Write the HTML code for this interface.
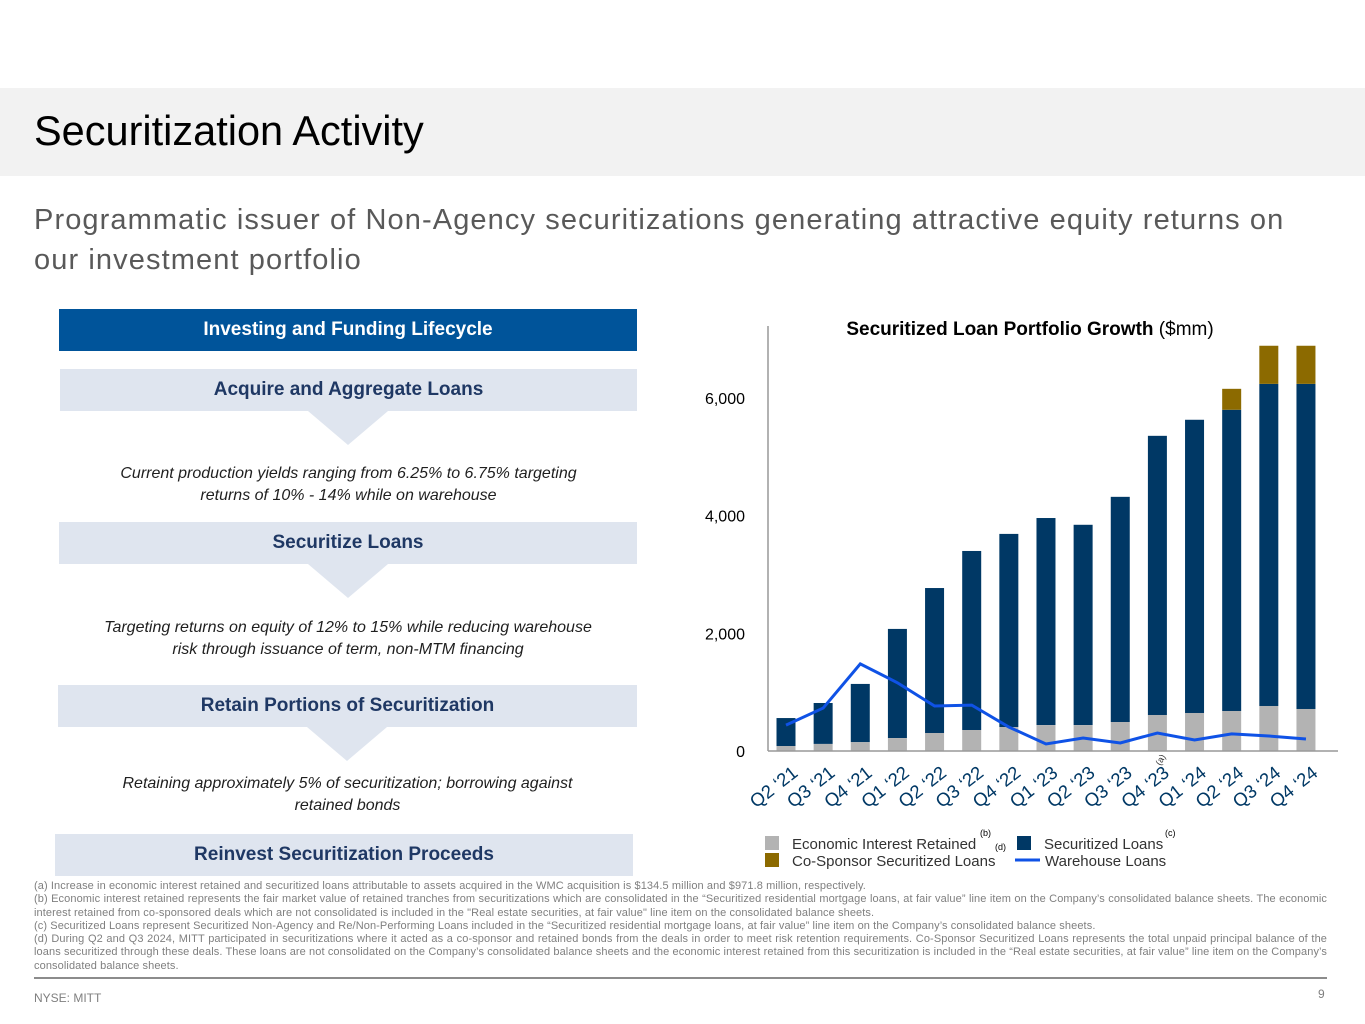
<!DOCTYPE html>
<html><head><meta charset="utf-8">
<style>
body{margin:0;width:1365px;height:1024px;background:#fff;position:relative;overflow:hidden;font-family:"Liberation Sans",sans-serif;}
.abs{position:absolute;}
.box{position:absolute;background:#dfe5ef;color:#1f3864;font-weight:bold;font-size:19px;text-align:center;line-height:42px;height:42px;}
.tri{position:absolute;width:0;height:0;border-left:40px solid transparent;border-right:40px solid transparent;border-top:34px solid #dfe5ef;}
.it{position:absolute;font-style:italic;color:#1f1f1f;font-size:16px;text-align:center;line-height:22px;}
.fn{position:absolute;left:34px;width:1293px;font-size:11px;color:#7f7f7f;line-height:13.3px;text-align:justify;letter-spacing:0.1px;}
</style></head><body>
<div class="abs" style="left:0;top:88px;width:1365px;height:88px;background:#f2f2f2;"></div>
<div class="abs" style="left:34px;top:107px;font-size:41.5px;color:#000;">Securitization Activity</div>
<div class="abs" style="left:34px;top:200px;width:1320px;font-size:29px;line-height:40px;color:#595959;letter-spacing:1.1px;">Programmatic issuer of Non-Agency securitizations generating attractive equity returns on<br>our investment portfolio</div>

<div class="box" style="left:59px;top:309px;width:578px;background:#00549a;color:#fff;">Investing and Funding Lifecycle</div>
<div class="box" style="left:60px;top:369px;width:577px;">Acquire and Aggregate Loans</div>
<div class="tri" style="left:308px;top:411px;"></div>
<div class="it" style="left:60px;top:463px;width:577px;">Current production yields ranging from 6.25% to 6.75% targeting<br>returns of 10% - 14% while on warehouse</div>
<div class="box" style="left:59px;top:522px;width:578px;">Securitize Loans</div>
<div class="tri" style="left:308px;top:564px;"></div>
<div class="it" style="left:59px;top:617px;width:578px;">Targeting returns on equity of 12% to 15% while reducing warehouse<br>risk through issuance of term, non-MTM financing</div>
<div class="box" style="left:58px;top:685px;width:579px;">Retain Portions of Securitization</div>
<div class="tri" style="left:307px;top:727px;"></div>
<div class="it" style="left:58px;top:773px;width:579px;">Retaining approximately 5% of securitization; borrowing against<br>retained bonds</div>
<div class="box" style="left:55px;top:834px;width:578px;">Reinvest Securitization Proceeds</div>

<svg class="abs" style="left:0;top:0" width="1365" height="880" id="chart"></svg>

<div class="fn" style="top:880px;">(a) Increase in economic interest retained and securitized loans attributable to assets acquired in the WMC acquisition is $134.5 million and $971.8 million, respectively.<br>(b) Economic interest retained represents the fair market value of retained tranches from securitizations which are consolidated in the “Securitized residential mortgage loans, at fair value” line item on the Company’s consolidated balance sheets. The economic interest retained from co-sponsored deals which are not consolidated is included in the "Real estate securities, at fair value" line item on the consolidated balance sheets.<br>(c) Securitized Loans represent Securitized Non-Agency and Re/Non-Performing Loans included in the “Securitized residential mortgage loans, at fair value” line item on the Company’s consolidated balance sheets.<br>(d) During Q2 and Q3 2024, MITT participated in securitizations where it acted as a co-sponsor and retained bonds from the deals in order to meet risk retention requirements. Co-Sponsor Securitized Loans represents the total unpaid principal balance of the loans securitized through these deals. These loans are not consolidated on the Company’s consolidated balance sheets and the economic interest retained from this securitization is included in the “Real estate securities, at fair value” line item on the Company’s consolidated balance sheets.</div>
<div class="abs" style="left:34px;top:977px;width:1293px;height:2px;background:#8c8c8c;"></div>
<div class="abs" style="left:34px;top:991px;font-size:12px;color:#7f7f7f;">NYSE: MITT</div>
<div class="abs" style="left:1318px;top:987px;font-size:12px;color:#7f7f7f;">9</div>

<script>
const categories=["Q2 '21","Q3 '21","Q4 '21","Q1 '22","Q2 '22","Q3 '22","Q4 '22","Q1 '23","Q2 '23","Q3 '23","Q4 '23","Q1 '24","Q2 '24","Q3 '24","Q4 '24"];
const economicInterest=[85,120,150,220,306,357,408,440,440,493,612,646,680,765,714];
const securitizedTotal=[560,816,1140,2075,2770,3400,3690,3960,3845,4320,5357,5630,5800,6240,6240];
const coSponsor=[0,0,0,0,0,0,0,0,0,0,0,0,356,648,648];
const warehouse=[440,730,1480,1160,765,780,408,120,220,136,306,187,290,255,204];
const yTicks=[0,2000,4000,6000];
const yTickLabels=["0","2,000","4,000","6,000"];
const NS="http://www.w3.org/2000/svg";
const svg=document.getElementById('chart');
const y0=751,pxPer=353/6000;
const y=v=>y0-v*pxPer;
const x=i=>786+i*37.14;
const bw=19;
function mk(tag,attrs,parent){const e=document.createElementNS(NS,tag);for(const k in attrs)e.setAttribute(k,attrs[k]);(parent||svg).appendChild(e);return e;}
let t=mk('text',{x:1030,y:335,'text-anchor':'middle','font-size':19,fill:'#000'});


t.innerHTML='<tspan font-weight="bold">Securitized Loan Portfolio Growth</tspan> ($mm)';
yTicks.forEach((v,i)=>{const l=mk('text',{x:745,y:y(v)+6,'text-anchor':'end','font-size':16,fill:'#000'});l.textContent=yTickLabels[i];

});
categories.forEach((c,i)=>{
 const cx=x(i);
 let r=mk('rect',{x:cx-bw/2,y:y(securitizedTotal[i]),width:bw,height:y(economicInterest[i])-y(securitizedTotal[i]),fill:'#003865'});
 
 
 r=mk('rect',{x:cx-bw/2,y:y(economicInterest[i]),width:bw,height:y0-y(economicInterest[i]),fill:'#b3b3b3'});
 
 
 if(coSponsor[i]>0){r=mk('rect',{x:cx-bw/2,y:y(securitizedTotal[i]+coSponsor[i]),width:bw,height:y(securitizedTotal[i])-y(securitizedTotal[i]+coSponsor[i]),fill:'#8c6a00'});
 
 }
 const l=mk('text',{x:0,y:0,'text-anchor':'end','font-size':18.5,fill:'#003865',transform:`translate(${cx+13},${775}) rotate(-38)`});l.textContent=c.replace("'","‘");
 
 
});
let a=mk('text',{x:0,y:0,'font-size':9,fill:'#333',transform:`translate(${x(10)+3},${766}) rotate(-60)`});a.textContent='(a)';


let ax=mk('line',{x1:768,y1:326,x2:768,y2:751,stroke:'#999','stroke-width':1.5});


ax=mk('line',{x1:768,y1:751,x2:1338,y2:751,stroke:'#999','stroke-width':1.5});


const pl=mk('polyline',{points:warehouse.map((v,i)=>x(i)+','+y(v)).join(' '),fill:'none',stroke:'#0f52e6','stroke-width':3});


const leg=[[765,836,'#b3b3b3','Economic Interest Retained','(b)',980],[1017,836,'#003865','Securitized Loans','(c)',1165],[765,853,'#8c6a00','Co-Sponsor Securitized Loans','(d)',995]];
leg.forEach(L=>{let s=mk('rect',{x:L[0],y:L[1],width:14,height:14,fill:L[2]});


let tx=mk('text',{x:L[0]+27,y:L[1]+13,'font-size':15,fill:'#333'});tx.textContent=L[3];


let n=mk('text',{x:L[5],y:L[1]+(L[4]=='(d)'?-3:0),'font-size':9,fill:'#000'});n.textContent=L[4];

});
let wl=mk('line',{x1:1015,y1:860,x2:1040,y2:860,stroke:'#0f52e6','stroke-width':3});


let wt=mk('text',{x:1045,y:866,'font-size':15,fill:'#333'});wt.textContent='Warehouse Loans';


</script>
</body></html>
